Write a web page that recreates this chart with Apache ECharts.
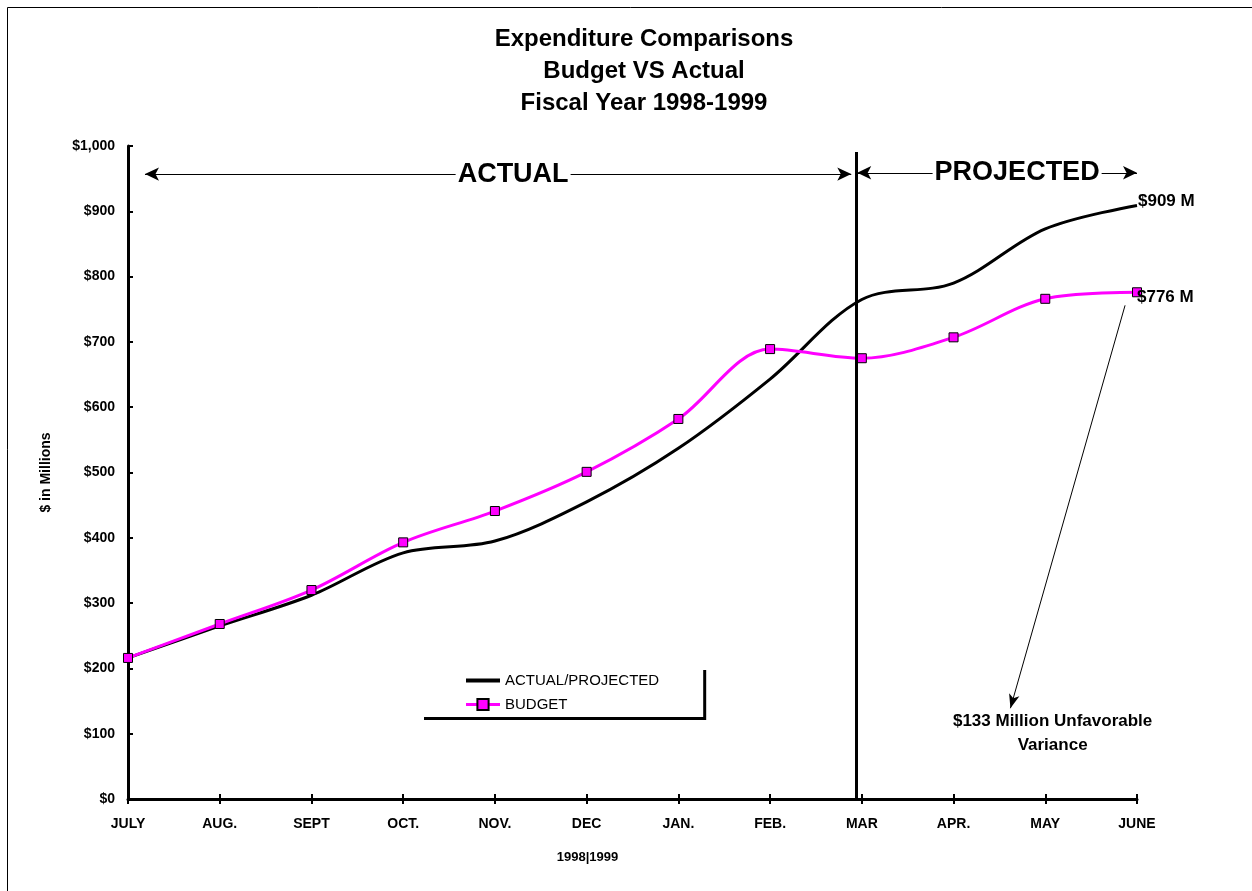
<!DOCTYPE html>
<html>
<head>
<meta charset="utf-8">
<title>Expenditure Comparisons</title>
<script src="https://cdn.jsdelivr.net/npm/echarts@6/dist/echarts.min.js"></script>
<style>
  html, body { margin: 0; padding: 0; background: #fff; }
  #chart { width: 1252px; height: 891px; }
</style>
</head>
<body>
<div id="chart"></div>
<script>
// Month labels for the fiscal year (July 1998 - June 1999)
const months = ['JULY', 'AUG.', 'SEPT', 'OCT.', 'NOV.', 'DEC', 'JAN.', 'FEB.', 'MAR', 'APR.', 'MAY', 'JUNE'];
// Cumulative expenditure, $ millions
const actualProjected = [216, 265, 312, 377, 395, 455, 537, 643, 765, 790, 873, 909];
const budget = [216, 268, 320, 393, 441, 501, 582, 689, 675, 707, 766, 776];
// Y axis ticks
const yTicks = [0, 100, 200, 300, 400, 500, 600, 700, 800, 900, 1000];

const FONT = '"Liberation Sans", Arial, Helvetica, sans-serif';
const lastIdx = months.length - 1;
const variance = actualProjected[lastIdx] - budget[lastIdx];

const chart = echarts.init(document.getElementById('chart'), null, { renderer: 'canvas' });

const toPairs = arr => arr.map((v, i) => [i, v]);

const arrowLabel = (text, dx) => ({
  show: true, position: 'middle', formatter: text, offset: [dx, 0], distance: 0, verticalAlign: 'middle',
  backgroundColor: '#fff', padding: [0, 2],
  fontFamily: FONT, fontSize: 27, fontWeight: 'bold', color: '#000'
});

const option = {
  animation: false,
  backgroundColor: '#fff',
  textStyle: { fontFamily: FONT },
  graphic: [{
    type: 'rect',
    silent: true,
    shape: { x: 7.5, y: 7.5, width: 1400, height: 1000 },
    style: { fill: 'none', stroke: '#000', lineWidth: 1 }
  }],
  title: {
    text: 'Expenditure Comparisons\nBudget VS Actual\nFiscal Year 1998-1999',
    left: 639,
    top: 18,
    textAlign: 'center',
    textStyle: { fontFamily: FONT, fontSize: 24, fontWeight: 'bold', color: '#000', lineHeight: 32 }
  },
  legend: {
    orient: 'vertical',
    left: 421,
    top: 667,
    padding: [6, 44, 5, 43],
    itemWidth: 34,
    itemHeight: 14,
    itemGap: 9,
    backgroundColor: '#fff',
    shadowColor: '#000',
    shadowBlur: 0,
    shadowOffsetX: 3,
    shadowOffsetY: 3,
    textStyle: { fontFamily: FONT, fontSize: 15, color: '#000' },
    data: [
      { name: 'ACTUAL/PROJECTED', itemStyle: { opacity: 0 }, lineStyle: { width: 4 } },
      { name: 'BUDGET', lineStyle: { width: 3 } }
    ]
  },
  grid: { left: 128, right: 115, top: 146, bottom: 92, containLabel: false },
  xAxis: [{
    type: 'value',
    min: 0,
    max: lastIdx,
    interval: 1,
    name: '1998|1999',
    nameLocation: 'middle',
    nameGap: 52,
    nameTextStyle: { fontFamily: FONT, fontSize: 13, fontWeight: 'bold', color: '#000', padding: [0, 90, 0, 0] },
    axisLine: { show: true, onZero: false, lineStyle: { color: '#000', width: 3 } },
    axisTick: { show: true, inside: true, length: 5, lineStyle: { color: '#000', width: 2 } },
    axisLabel: {
      margin: 18,
      formatter: v => months[v] || '',
      fontFamily: FONT, fontSize: 14, fontWeight: 'bold', color: '#000'
    },
    splitLine: { show: false }
  }, {
    type: 'value',
    position: 'bottom',
    min: 0,
    max: lastIdx,
    interval: 1,
    axisLine: { show: false },
    axisTick: { show: true, length: 5, lineStyle: { color: '#000', width: 2 } },
    axisLabel: { show: false },
    splitLine: { show: false }
  }],
  yAxis: {
    type: 'value',
    min: yTicks[0],
    max: yTicks[yTicks.length - 1],
    interval: yTicks[1] - yTicks[0],
    name: '$ in Millions',
    nameLocation: 'middle',
    nameGap: 75,
    nameRotate: 90,
    nameTextStyle: { fontFamily: FONT, fontSize: 14, fontWeight: 'bold', color: '#000' },
    axisLine: { show: true, lineStyle: { color: '#000', width: 3 } },
    axisTick: { show: true, inside: true, length: 5, lineStyle: { color: '#000', width: 2 } },
    axisLabel: {
      margin: 13,
      formatter: v => '$' + v.toLocaleString('en-US'),
      fontFamily: FONT, fontSize: 14, fontWeight: 'bold', color: '#000'
    },
    splitLine: { show: false }
  },
  series: [{
    name: 'ACTUAL/PROJECTED',
    type: 'line',
    smooth: 0.33,
    symbol: 'none',
    z: 3,
    lineStyle: { color: '#000', width: 3 },
    itemStyle: { color: '#000' },
    endLabel: {
      show: true, distance: 1, offset: [0, -4],
      formatter: () => '$' + actualProjected[lastIdx] + ' M',
      fontFamily: FONT, fontSize: 17, fontWeight: 'bold', color: '#000'
    },
    data: toPairs(actualProjected),
    markLine: {
      silent: true,
      animation: false,
      data: [
        // divider between actual and projected months
        [{ coord: [7.94, 0], symbol: 'none', lineStyle: { color: '#000', width: 3, type: 'solid' }, label: { show: false } },
         { coord: [7.94, 991], symbol: 'none' }],
        // ACTUAL span
        [{ coord: [0.185, 957], symbol: 'arrow', symbolSize: [10, 14],
           lineStyle: { color: '#000', width: 1, type: 'solid' },
           label: arrowLabel('ACTUAL', 15) },
         { coord: [7.885, 957], symbol: 'arrow', symbolSize: [10, 14] }],
        // PROJECTED span
        [{ coord: [7.95, 959], symbol: 'arrow', symbolSize: [10, 14],
           lineStyle: { color: '#000', width: 1, type: 'solid' },
           label: arrowLabel('PROJECTED', 20) },
         { coord: [11, 959], symbol: 'arrow', symbolSize: [10, 14] }],
        // variance pointer
        [{ coord: [10.87, 756], symbol: 'none', lineStyle: { color: '#000', width: 1, type: 'solid' }, label: { show: false } },
         { coord: [9.62, 139], symbol: 'arrow', symbolSize: [8, 14] }]
      ]
    },
    markPoint: {
      silent: true,
      animation: false,
      symbol: 'rect',
      symbolSize: 0,
      data: [{
        coord: [10.08, 100],
        label: {
          show: true, position: 'inside',
          formatter: '$' + variance + ' Million Unfavorable\nVariance',
          align: 'center', lineHeight: 24,
          fontFamily: FONT, fontSize: 17, fontWeight: 'bold', color: '#000'
        }
      }]
    }
  }, {
    name: 'BUDGET',
    type: 'line',
    smooth: 0.33,
    symbol: 'rect',
    symbolSize: 9,
    z: 4,
    lineStyle: { color: '#FF00FF', width: 3 },
    itemStyle: { color: '#FF00FF', borderColor: '#000', borderWidth: 1 },
    data: toPairs(budget).map((p, i) => i === lastIdx ? {
      value: p,
      label: {
        show: true, position: 'right', distance: 1, offset: [-6, 5],
        formatter: '$' + budget[lastIdx] + ' M',
        fontFamily: FONT, fontSize: 17, fontWeight: 'bold', color: '#000'
      }
    } : p)
  }]
};

chart.setOption(option);
</script>
</body>
</html>
